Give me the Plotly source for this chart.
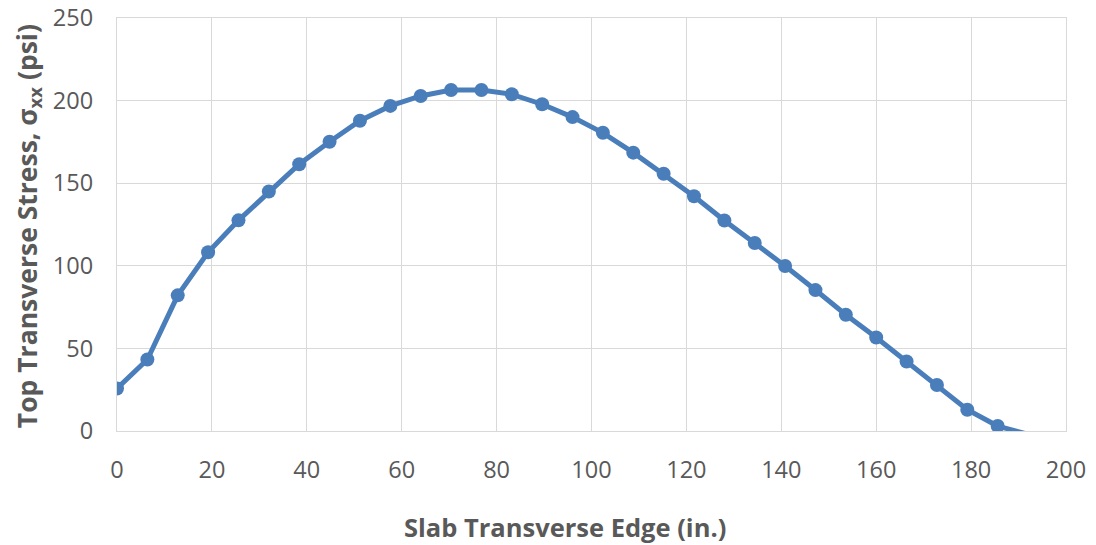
import plotly.graph_objects as go

# Position across the slab (in.) and the top transverse stress at each node (psi)
edge_in = [0, 6.4, 12.8, 19.2, 25.6, 32.0, 38.4, 44.8, 51.2, 57.6,
           64.0, 70.4, 76.8, 83.2, 89.6, 96.0, 102.4, 108.8, 115.2, 121.6,
           128.0, 134.4, 140.8, 147.2, 153.6, 160.0, 166.4, 172.8, 179.2, 185.6,
           192.0]
stress_psi = [25.7, 43.3, 82.1, 108.2, 127.5, 145.0, 161.5, 175.1, 187.8, 196.8,
              202.8, 206.4, 206.4, 203.8, 197.8, 190.0, 180.5, 168.5, 155.7, 142.1,
              127.4, 113.8, 99.9, 85.3, 70.4, 56.6, 42.1, 27.8, 12.9, 3.0,
              -2.0]

x_ticks = [0, 20, 40, 60, 80, 100, 120, 140, 160, 180, 200]
y_ticks = [0, 50, 100, 150, 200, 250]

BLUE = "#4A7EBB"
GREY_TEXT = "#595959"
GRID = "#D9D9D9"
FONT = "Open Sans"

fig = go.Figure()

# Connecting line through every node
fig.add_trace(go.Scatter(
    x=edge_in, y=stress_psi, mode="lines",
    line=dict(color=BLUE, width=5),
    hoverinfo="skip", showlegend=False,
))

# Node markers (only those inside the plotted stress range)
mx = [x for x, y in zip(edge_in, stress_psi) if y >= 0]
my = [y for y in stress_psi if y >= 0]
fig.add_trace(go.Scatter(
    x=mx, y=my, mode="markers",
    marker=dict(color=BLUE, size=14, line=dict(width=0)),
    showlegend=False,
))

fig.update_layout(
    width=1096, height=545,
    margin=dict(l=117, r=30, t=18, b=114, autoexpand=False),
    paper_bgcolor="white", plot_bgcolor="white",
    font=dict(family=FONT, color=GREY_TEXT),
    xaxis=dict(
        range=[0, 200], tickvals=x_ticks, ticktext=[str(t) for t in x_ticks],
        showgrid=True, gridcolor=GRID, gridwidth=1.3, zeroline=False,
        showline=True, mirror=True, linecolor=GRID, linewidth=1.3,
        ticks="", tickfont=dict(size=23.5, color=GREY_TEXT, family=FONT),
        ticklabelstandoff=18, automargin=False,
    ),
    yaxis=dict(
        range=[0, 250], tickvals=y_ticks, ticktext=[str(t) for t in y_ticks],
        showgrid=True, gridcolor=GRID, gridwidth=1.3, zeroline=False,
        showline=True, mirror=True, linecolor=GRID, linewidth=1.3,
        ticks="", tickfont=dict(size=23.5, color=GREY_TEXT, family=FONT),
        ticklabelstandoff=18, automargin=False,
    ),
    annotations=[
        dict(text="<b>Slab Transverse Edge (in.)</b>",
             xref="paper", yref="paper", x=0.472, y=0,
             xanchor="center", yanchor="middle", yshift=-96,
             showarrow=False, font=dict(size=25.5, color=GREY_TEXT, family=FONT)),
        dict(text="<b>Top Transverse Stress, σ<sub>xx</sub> (psi)</b>",
             xref="paper", yref="paper", x=0, y=0.496,
             xanchor="center", yanchor="middle", xshift=-89,
             textangle=-90,
             showarrow=False, font=dict(size=26.5, color=GREY_TEXT, family=FONT)),
    ],
)

fig.write_html("out.html")
